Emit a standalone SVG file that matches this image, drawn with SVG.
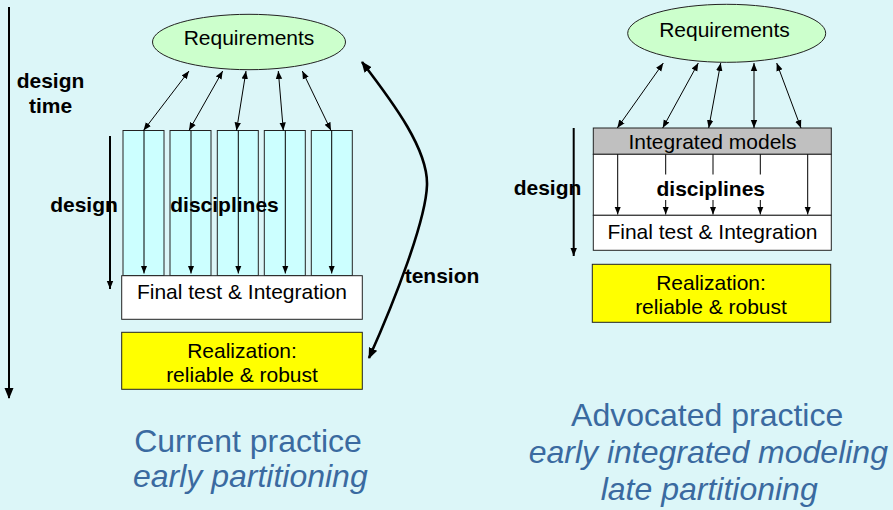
<svg xmlns="http://www.w3.org/2000/svg" width="893" height="510" viewBox="0 0 893 510">
  <style>
    .lbl { font-family: "Liberation Sans", Arial, sans-serif; font-size: 21px; fill: #000; text-anchor: middle; }
    .bold { font-weight: bold; }
    .cap { font-family: "Liberation Sans", Arial, sans-serif; font-size: 32px; fill: #3A6AA0; text-anchor: middle; }
    .it { font-style: italic; }
    .box { stroke: #222; stroke-width: 1; }
    .thin { stroke: #000; stroke-width: 1; fill: none; }
    .thick { stroke: #000; stroke-width: 2; fill: none; }
  </style>
  <defs>
    <marker id="ah" markerUnits="userSpaceOnUse" markerWidth="8" markerHeight="8" viewBox="0 0 8 8" refX="8" refY="4" orient="auto-start-reverse">
      <path d="M0,0.8 L8,4 L0,7.2 z" fill="#000"/>
    </marker>
    <marker id="ahb" markerUnits="userSpaceOnUse" markerWidth="11" markerHeight="10" viewBox="0 0 11 10" refX="10" refY="5" orient="auto-start-reverse">
      <path d="M0,0.5 L11,5 L0,9.5 z" fill="#000"/>
    </marker>
  </defs>

  <rect x="0" y="0" width="893" height="510" fill="#DCF6F8"/>

  <!-- Left: current practice -->
  <g id="req-left">
    <ellipse cx="249" cy="42" rx="96.5" ry="27.7" fill="#CCFFCC" class="box"/>
    <text class="lbl" x="249" y="45">Requirements</text>
  </g>

  <g id="disciplines-left">
    <rect x="123" y="130.5" width="41" height="145" fill="#CCFFFF" class="box"/>
    <rect x="170" y="130.5" width="41" height="145" fill="#CCFFFF" class="box"/>
    <rect x="217.3" y="130.5" width="41" height="145" fill="#CCFFFF" class="box"/>
    <rect x="264.3" y="130.5" width="41" height="145" fill="#CCFFFF" class="box"/>
    <rect x="311.3" y="130.5" width="41" height="145" fill="#CCFFFF" class="box"/>
  </g>

  <g id="final-left">
    <rect x="121.7" y="275.7" width="240.6" height="43.6" fill="#FFFFFF" class="box"/>
    <text class="lbl" x="242" y="299.3">Final test &amp; Integration</text>
  </g>

  <g id="realization-left">
    <rect x="121.7" y="332.3" width="240.6" height="57" fill="#FFFF00" class="box"/>
    <text class="lbl" x="242" y="357.7">Realization:</text>
    <text class="lbl" x="242" y="381.7">reliable &amp; robust</text>
  </g>

  <!-- Right: advocated practice -->
  <g id="req-right">
    <ellipse cx="726.7" cy="33.3" rx="99" ry="29" fill="#CCFFCC" class="box"/>
    <text class="lbl" x="724.5" y="37">Requirements</text>
  </g>

  <g id="integrated-right">
    <rect x="593.3" y="128" width="238" height="26.3" fill="#C0C0C0" class="box"/>
    <text class="lbl" x="712.5" y="149.3">Integrated models</text>
  </g>

  <g id="disciplines-right">
    <rect x="593.3" y="154.3" width="238" height="61" fill="#FFFFFF" class="box"/>
  </g>

  <g id="final-right">
    <rect x="593.3" y="215.3" width="238" height="35" fill="#FFFFFF" class="box"/>
    <text class="lbl" x="712.5" y="239.3">Final test &amp; Integration</text>
  </g>

  <g id="realization-right">
    <rect x="592.3" y="264.3" width="238.4" height="58" fill="#FFFF00" class="box"/>
    <text class="lbl" x="711" y="290">Realization:</text>
    <text class="lbl" x="711" y="314">reliable &amp; robust</text>
  </g>

  <g id="connectors">
    <!-- time axes -->
    <line class="thick" x1="9" y1="7" x2="9" y2="398" marker-end="url(#ahb)"/>
    <line class="thick" x1="110" y1="136" x2="110" y2="289" stroke-width="1.8" marker-end="url(#ah)"/>
    <line class="thick" x1="573.7" y1="128" x2="573.7" y2="256" stroke-width="1.8" marker-end="url(#ah)"/>

    <!-- requirements to disciplines (left) -->
    <line class="thin" x1="189" y1="71" x2="143.5" y2="130.5" marker-start="url(#ah)" marker-end="url(#ah)"/>
    <line class="thin" x1="222.7" y1="71" x2="189" y2="130.5" marker-start="url(#ah)" marker-end="url(#ah)"/>
    <line class="thin" x1="246" y1="71" x2="236.5" y2="130.5" marker-start="url(#ah)" marker-end="url(#ah)"/>
    <line class="thin" x1="278.3" y1="71" x2="283.3" y2="130.5" marker-start="url(#ah)" marker-end="url(#ah)"/>
    <line class="thin" x1="302.3" y1="71" x2="331" y2="130.5" marker-start="url(#ah)" marker-end="url(#ah)"/>

    <!-- discipline columns down to integration (left) -->
    <line class="thin" x1="144" y1="130.5" x2="144" y2="273.5" marker-end="url(#ah)"/>
    <line class="thin" x1="191" y1="130.5" x2="191" y2="273.5" marker-end="url(#ah)"/>
    <line class="thin" x1="238.3" y1="130.5" x2="238.3" y2="273.5" marker-end="url(#ah)"/>
    <line class="thin" x1="285.3" y1="130.5" x2="285.3" y2="273.5" marker-end="url(#ah)"/>
    <line class="thin" x1="331.7" y1="130.5" x2="331.7" y2="273.5" marker-end="url(#ah)"/>

    <!-- tension between requirements and realization -->
    <path d="M362,62 C395,105 428,150 427,185 C426,220 395,300 369,358" stroke="#000" stroke-width="2.6" fill="none" marker-start="url(#ahb)" marker-end="url(#ahb)"/>

    <!-- requirements to integrated models (right) -->
    <line class="thin" x1="663.3" y1="63" x2="617.3" y2="128" marker-start="url(#ah)" marker-end="url(#ah)"/>
    <line class="thin" x1="698.3" y1="63" x2="662.7" y2="128" marker-start="url(#ah)" marker-end="url(#ah)"/>
    <line class="thin" x1="720.7" y1="63" x2="708.7" y2="128" marker-start="url(#ah)" marker-end="url(#ah)"/>
    <line class="thin" x1="754" y1="63" x2="754" y2="128" marker-start="url(#ah)" marker-end="url(#ah)"/>
    <line class="thin" x1="776.7" y1="63" x2="801" y2="128" marker-start="url(#ah)" marker-end="url(#ah)"/>

    <!-- integrated models down to integration (right) -->
    <line class="thin" x1="617.7" y1="154.3" x2="617.7" y2="214.5" marker-end="url(#ah)"/>
    <line class="thin" x1="665.7" y1="154.3" x2="665.7" y2="214.5" marker-end="url(#ah)"/>
    <line class="thin" x1="713" y1="154.3" x2="713" y2="214.5" marker-end="url(#ah)"/>
    <line class="thin" x1="760.3" y1="154.3" x2="760.3" y2="214.5" marker-end="url(#ah)"/>
    <line class="thin" x1="807.7" y1="154.3" x2="807.7" y2="214.5" marker-end="url(#ah)"/>
  </g>

  <!-- labels -->
  <g id="labels">
    <text class="lbl bold" x="50.5" y="88.3">design</text>
    <text class="lbl bold" x="50.5" y="113.3">time</text>
    <text class="lbl bold" x="84" y="211.7">design</text>
    <text class="lbl bold" x="224.5" y="211.7">disciplines</text>
    <text class="lbl bold" x="442" y="283.3">tension</text>
    <rect x="653" y="174.5" width="116" height="25.5" fill="#FFFFFF"/>
    <text class="lbl bold" x="710.8" y="196">disciplines</text>
    <text class="lbl bold" x="547.5" y="195">design</text>
  </g>

  <g id="captions">
    <text class="cap" x="248" y="451.7">Current practice</text>
    <text class="cap it" x="250.3" y="486.7">early partitioning</text>
    <text class="cap" x="707.2" y="426">Advocated practice</text>
    <text class="cap it" x="708.3" y="463.3">early integrated modeling</text>
    <text class="cap it" x="709.2" y="500">late partitioning</text>
  </g>
</svg>
